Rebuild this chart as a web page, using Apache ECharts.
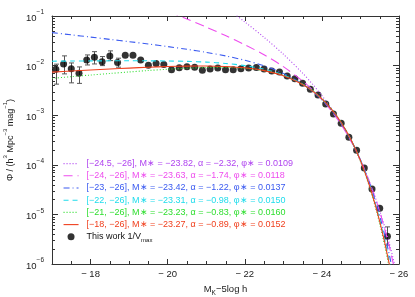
<!DOCTYPE html>
<html><head><meta charset="utf-8">
<script src="https://cdn.jsdelivr.net/npm/echarts@6/dist/echarts.min.js"></script>
<style>html,body{margin:0;padding:0;background:#fff}#c{width:415px;height:297px}</style>
</head><body><div id="c"></div>
<script>
// ---- Data ----
const magGrid = [-17, -17.5, -18, -18.5, -19, -19.5, -20, -20.5, -21, -21.5, -22, -22.5, -23,
  -23.5, -23.75, -24, -24.25, -24.5, -24.75, -25, -25.25, -25.5, -25.75, -26];

const fitNames = [
  '[−24.5, −26], M∗ = −23.82, α = −2.32, φ∗ = 0.0109',
  '[−24, −26], M∗ = −23.63, α = −1.74, φ∗ = 0.0118',
  '[−23, −26], M∗ = −23.42, α = −1.22, φ∗ = 0.0137',
  '[−22, −26], M∗ = −23.31, α = −0.98, φ∗ = 0.0150',
  '[−21, −26], M∗ = −23.23, α = −0.83, φ∗ = 0.0160',
  '[−18, −26], M∗ = −23.27, α = −0.89, φ∗ = 0.0152'
];
const fit245 = [40.0, 21.7, 11.8, 6.42, 3.48, 1.88, 1.01, 0.542, 0.287, 0.150, 0.0761, 0.0371, 0.0170,
  0.00704, 0.00428, 0.00248, 0.00135, 0.000676, 0.000308, 0.000123, 4.22e-5, 1.19e-5, 2.59e-6, 4.14e-7];
const fit24 = [0.995, 0.706, 0.502, 0.355, 0.252, 0.177, 0.125, 0.0868, 0.0597, 0.0403, 0.0264, 0.0165, 0.00954,
  0.00489, 0.00328, 0.00207, 0.00121, 0.000647, 0.000307, 0.000125, 4.22e-5, 1.13e-5, 2.23e-6, 3.03e-7];
const fit23 = [0.0462, 0.0417, 0.0376, 0.0338, 0.0304, 0.0272, 0.0242, 0.0213, 0.0185, 0.0157, 0.0128, 0.00991, 0.00697,
  0.00423, 0.00304, 0.00204, 0.00125, 0.000679, 0.000320, 0.000126, 3.95e-5, 9.29e-6, 1.52e-6, 1.58e-7];
const fit22 = [0.01226, 0.01235, 0.01243, 0.01249, 0.01252, 0.01249, 0.01239, 0.01217, 0.01175, 0.01106, 0.01000, 0.00847, 0.00648,
  0.00421, 0.00311, 0.00212, 0.00131, 0.000709, 0.000328, 0.000124, 3.66e-5, 7.83e-6, 1.12e-6, 9.7e-8];
const fit21 = [0.00554, 0.00598, 0.00645, 0.00694, 0.00745, 0.00796, 0.00844, 0.00886, 0.00914, 0.00917, 0.00881, 0.00789, 0.00633,
  0.00426, 0.00318, 0.00218, 0.00134, 0.000718, 0.000324, 0.000118, 3.27e-5, 6.44e-6, 8.2e-7, 6.1e-8];
const fit18 = [0.00739, 0.00776, 0.00814, 0.00853, 0.00891, 0.00926, 0.00957, 0.00978, 0.00983, 0.00962, 0.00902, 0.00791, 0.00624,
  0.00416, 0.00310, 0.00213, 0.00131, 0.000711, 0.000326, 0.000122, 3.49e-5, 7.20e-6, 9.8e-7, 7.9e-8];

const obsName = 'This work 1/Vmax';
const obsMag = [-17.1, -17.3, -17.5, -17.7, -17.9, -18.1, -18.3, -18.5, -18.7, -18.9, -19.1, -19.3, -19.5, -19.7, -19.9,
  -20.1, -20.3, -20.5, -20.7, -20.9, -21.1, -21.3, -21.5, -21.7, -21.9, -22.1, -22.3, -22.5, -22.7, -22.9,
  -23.1, -23.3, -23.5, -23.7, -23.9, -24.1, -24.3, -24.5, -24.7, -24.9, -25.1, -25.3, -25.5, -25.7];
const obsPhi = [0.00847, 0.0108, 0.0086, 0.00703, 0.0130, 0.0148, 0.0120, 0.0157, 0.0115, 0.0162, 0.0162, 0.0130, 0.0102, 0.0110, 0.0105,
  0.0082, 0.0091, 0.0095, 0.0093, 0.0081, 0.0085, 0.0089, 0.0082, 0.0082, 0.0086, 0.0089, 0.0092, 0.0085, 0.0078, 0.0074,
  0.0062, 0.0054, 0.0044, 0.00335, 0.00255, 0.00169, 0.00106, 0.000687, 0.000359, 0.000197, 8.6e-5, 3.26e-5, 1.33e-5, 3.63e-6];
const errMag = [-17.1, -17.3, -17.5, -17.7, -17.9, -18.1, -18.3, -18.5, -18.7, -25.7];
const errLow = [0.00423, 0.00681, 0.00449, 0.00438, 0.0103, 0.0108, 0.0100, 0.0126, 0.00929, 2.4e-6];
const errHigh = [0.0107, 0.0157, 0.0113, 0.0094, 0.0164, 0.0191, 0.0152, 0.0198, 0.0141, 5.6e-6];

const xMinorTicks = [-17.5, -18.5, -19, -19.5, -20.5, -21, -21.5, -22.5, -23, -23.5, -24.5, -25, -25.5];
const yDecades = [-6, -5, -4, -3, -2];
const yMinorMult = [2, 3, 4, 5, 6, 7, 8, 9];

// ---- Styles ----
const FONT = 'Liberation Sans';
const AX = '#333';
const fitColors = ['#b044f0', '#ee4cee', '#3a5af0', '#20dcec', '#2ede2e', '#f0401e'];
const fitTypes = [[1, 2], [9, 5], [6, 3, 1, 3], [5, 4], [1, 2], 'solid'];
const fitSets = [fit245, fit24, fit23, fit22, fit21, fit18];

const sup = (e) => '{b|10}{s|' + (e < 0 ? '−' + Math.abs(e) : e) + '}';

const series = [];
fitSets.forEach((arr, i) => {
  series.push({
    name: fitNames[i], type: 'line', smooth: 0.3, symbol: 'none', z: 3,
    data: magGrid.map((m, j) => [m, arr[j]]),
    lineStyle: { color: fitColors[i], width: 1.1, type: fitTypes[i] },
    itemStyle: { color: fitColors[i] },
    clip: true, silent: true
  });
});
series.push({
  name: obsName, type: 'scatter', symbol: 'circle', symbolSize: 7, z: 2,
  data: obsMag.map((m, j) => [m, obsPhi[j]]),
  itemStyle: { color: '#000' }, silent: true
});
series.push({
  type: 'custom', z: 1, silent: true, clip: true,
  data: errMag.map((m, j) => [m, errLow[j], errHigh[j]]),
  renderItem: (params, api) => {
    const lo = api.coord([api.value(0), api.value(1)]);
    const hi = api.coord([api.value(0), api.value(2)]);
    const x = Math.round(lo[0]) + 0.5, w = 2.5;
    const st = { stroke: '#555', lineWidth: 1 };
    return { type: 'group', children: [
      { type: 'line', shape: { x1: x, y1: lo[1], x2: x, y2: hi[1] }, style: st },
      { type: 'line', shape: { x1: x - w, y1: lo[1], x2: x + w, y2: lo[1] }, style: st },
      { type: 'line', shape: { x1: x - w, y1: hi[1], x2: x + w, y2: hi[1] }, style: st }
    ]};
  }
});
const minorData = xMinorTicks.map(v => [v, 1e-3, 0]);
yDecades.forEach(e => yMinorMult.forEach(k => minorData.push([-20, k * Math.pow(10, e), 1])));
series.push({
  type: 'custom', z: 5, silent: true, clip: false,
  data: minorData,
  renderItem: (params, api) => {
    const cs = params.coordSys;
    const p = api.coord([api.value(0), api.value(1)]);
    const st = { stroke: AX, lineWidth: 1 };
    if (api.value(2) === 0) {
      const x = Math.round(p[0]) + 0.5;
      return { type: 'group', children: [
        { type: 'line', shape: { x1: x, y1: cs.y + cs.height, x2: x, y2: cs.y + cs.height - 3 }, style: st },
        { type: 'line', shape: { x1: x, y1: cs.y, x2: x, y2: cs.y + 3 }, style: st }
      ]};
    }
    const y = Math.round(p[1]) + 0.5;
    return { type: 'group', children: [
      { type: 'line', shape: { x1: cs.x, y1: y, x2: cs.x + 3, y2: y }, style: st },
      { type: 'line', shape: { x1: cs.x + cs.width, y1: y, x2: cs.x + cs.width - 3, y2: y }, style: st }
    ]};
  }
});

const xBase = {
  type: 'value', min: -26, max: -17, inverse: true, interval: 2,
  axisLine: { lineStyle: { color: AX, width: 1 } },
  axisTick: { inside: true, length: 5, lineStyle: { color: AX } },
  splitLine: { show: false }
};
const yBase = {
  type: 'log', logBase: 10, min: 1e-6, max: 0.1,
  axisLine: { show: true, lineStyle: { color: AX, width: 1 } },
  axisTick: { inside: true, length: 6, lineStyle: { color: AX } },
  splitLine: { show: false }
};

const option = {
  animation: false,
  backgroundColor: '#fff',
  textStyle: { fontFamily: FONT },
  grid: { left: 52, right: 16, top: 16, bottom: 33, containLabel: false, outerBoundsMode: 'none' },
  xAxis: [
    Object.assign({}, xBase, {
      position: 'bottom',
      axisLabel: { color: '#222', fontSize: 9.5, fontFamily: FONT, margin: 5, showMaxLabel: false,
        formatter: v => (v === -17 ? '' : (v < 0 ? '− ' : '') + Math.abs(v)) },
      name: '{a|M}{k|K}{a|−5log h}', nameLocation: 'middle', nameGap: 13,
      nameTextStyle: { color: '#222', fontFamily: FONT, rich: {
        a: { fontSize: 9.5, fontFamily: FONT, color: '#222', lineHeight: 13, verticalAlign: 'top' },
        k: { fontSize: 6.5, fontFamily: FONT, color: '#222', verticalAlign: 'bottom', lineHeight: 13 } } }
    }),
    Object.assign({}, xBase, { position: 'top', axisLabel: { show: false } })
  ],
  yAxis: [
    Object.assign({}, yBase, {
      position: 'left',
      axisLabel: { margin: 8, formatter: v => sup(Math.round(Math.log10(v))),
        rich: {
          b: { fontSize: 9.5, fontFamily: FONT, color: '#222', lineHeight: 14, verticalAlign: 'bottom' },
          s: { fontSize: 6.5, fontFamily: FONT, color: '#222', lineHeight: 14, verticalAlign: 'top' } } },
      name: '{a|Φ / (h}{s|3}{a| Mpc}{s|−3}{a| mag}{s|−1}{a|)}', nameLocation: 'middle', nameGap: 19, nameRotate: 90,
      nameTextStyle: { rich: {
        a: { fontSize: 9, fontFamily: FONT, color: '#222', lineHeight: 13, verticalAlign: 'bottom' },
        s: { fontSize: 6, fontFamily: FONT, color: '#222', lineHeight: 13, verticalAlign: 'top' } } }
    }),
    Object.assign({}, yBase, { position: 'right', axisLabel: { show: false } })
  ],
  legend: {
    orient: 'vertical', left: 63, top: 157.5, padding: 0,
    itemWidth: 15, itemHeight: 7, itemGap: 0,
    data: fitNames.map((n, i) => ({ name: n, itemStyle: { opacity: 0 }, lineStyle: { width: 1.1 }, textStyle: { color: fitColors[i] } }))
      .concat([{ name: obsName, icon: 'circle', textStyle: { color: '#111' } }]),
    formatter: n => (n === obsName ? 'This work 1/V{sub|max}' : n),
    textStyle: { fontFamily: FONT, fontSize: 9, lineHeight: 12.2, padding: [0, 0, 0, 3],
      rich: { sub: { fontSize: 6, fontFamily: FONT, color: '#111', verticalAlign: 'bottom', lineHeight: 12.2 } } },
    selectedMode: false
  },
  series: series
};
series.forEach(s => { if (s.type === 'custom') { s.xAxisIndex = 0; s.yAxisIndex = 0; } });

const chart = echarts.init(document.getElementById('c'), null, { renderer: 'canvas' });
chart.setOption(option);
</script>
</body></html>
